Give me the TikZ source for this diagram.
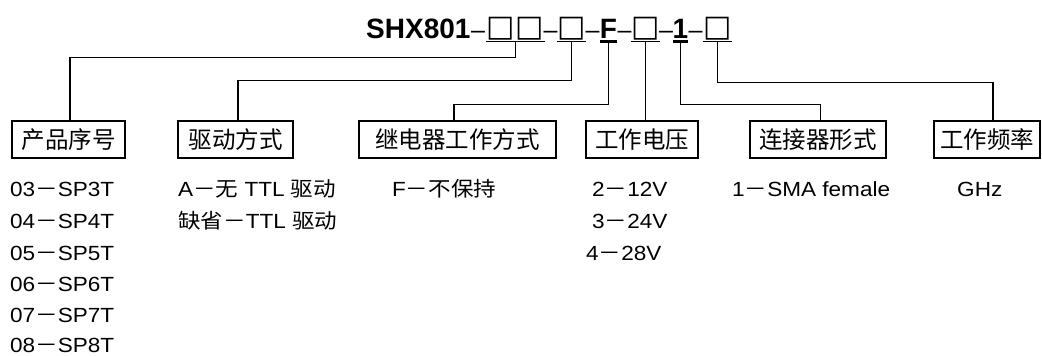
\documentclass[tikz,border=0pt]{standalone}
\usepackage{fontspec}
\setmainfont{Liberation Sans}
\newfontfamily\cjk{Noto Sans CJK SC}
\newfontfamily\symf{DejaVu Sans}
\newfontfamily\latw[FakeStretch=1.1]{Liberation Sans}
\newfontfamily\cjkw[FakeStretch=1.1]{Noto Sans CJK SC}
\newcommand\zhtxt[1]{{\cjkw #1}}
\newcommand\dd{{\cjkw －}}
\newcommand\sqr{\raisebox{2pt}{\symf\fontsize{30}{30}\selectfont □}}
\begin{document}
\begin{tikzpicture}[x=1pt,y=1pt,
  lbl/.style={draw, line width=1.4pt, minimum height=37pt, inner sep=0pt,
    font=\cjk\fontsize{23.5}{23.5}\selectfont},
  conn/.style={line width=1.4pt},
  ul/.style={line width=1.4pt},
  ulb/.style={line width=2.6pt},
  grp/.style={inner sep=0pt, anchor=base, text depth=3pt,
    font=\fontsize{28}{28}\selectfont},
  hy/.style={inner sep=0pt, anchor=base, font=\fontsize{25}{25}\selectfont},
  desc/.style={anchor=base west, inner sep=0pt,
    font=\latw\fontsize{20.5}{20.5}\selectfont},
]
\useasboundingbox (0,0) rectangle (1042,-356);

% title
\node[inner sep=0pt, anchor=base west, font=\bfseries\fontsize{28}{28}\selectfont] (shx) at (366,-38) {SHX801};
\node[hy] (d1) at (478,-38) {–};
\node[grp, minimum width=54pt] (g1) at (515.5,-38) {\sqr\kern1pt\sqr};
\node[hy] (d2) at (550.5,-38) {–};
\node[grp, minimum width=28pt] (g2) at (571.5,-38) {\sqr};
\node[hy] (d3) at (592.5,-38) {–};
\node[grp, minimum width=17pt, font=\bfseries\fontsize{28}{28}\selectfont] (g3) at (608.5,-38) {F};
\node[hy] (d4) at (624.5,-38) {–};
\node[grp, minimum width=27pt] (g4) at (645.5,-38) {\sqr};
\node[hy] (d5) at (666,-38) {–};
\node[grp, minimum width=15pt, font=\bfseries\fontsize{28}{28}\selectfont] (g5) at (680.5,-38) {1};
\node[hy] (d6) at (695.5,-38) {–};
\node[grp, minimum width=29pt] (g6) at (717.5,-38) {\sqr};

% underlines
\draw[ul] (g1.south west) -- (g1.south east);
\draw[ul] (g2.south west) -- (g2.south east);
\draw[ulb] (g3.south west) -- (g3.south east);
\draw[ul] (g4.south west) -- (g4.south east);
\draw[ulb] (g5.south west) -- (g5.south east);
\draw[ul] (g6.south west) -- (g6.south east);

% boxes
\node[lbl, minimum width=113pt] (b1) at (68.5,-139.5) {产品序号};
\node[lbl, minimum width=115pt] (b2) at (235.5,-139.5) {驱动方式};
\node[lbl, minimum width=197pt] (b3) at (457.5,-139.5) {继电器工作方式};
\node[lbl, minimum width=112pt] (b4) at (642,-139.5) {工作电压};
\node[lbl, minimum width=136pt] (b5) at (818,-139.5) {连接器形式};
\node[lbl, minimum width=106pt] (b6) at (987,-139.5) {工作频率};

% connectors
\draw[conn] (g1.south) -- ++(0,-16) -| ([xshift=1.5pt]b1.north);
\draw[conn] (g2.south) -- ++(0,-39) -| ([xshift=2.5pt]b2.north);
\draw[conn] (g3.south) -- ++(0,-63) -| ([xshift=-3.5pt]b3.north);
\draw[conn] (g4.south) -- (g4.south |- b4.north);
\draw[conn] (g5.south) -- ++(0,-63) -| ([xshift=2.5pt]b5.north);
\draw[conn] (g6.south) -- ++(0,-41) -| ([xshift=6pt]b6.north);

% descriptions
\node[desc] (p1) at (10,-196) {03\dd SP3T};
\node[desc] (p2) at (10,-228) {04\dd SP4T};
\node[desc] (p3) at (10,-260) {05\dd SP5T};
\node[desc] (p4) at (10,-291) {06\dd SP6T};
\node[desc] (p5) at (10,-322) {07\dd SP7T};
\node[desc] (p6) at (10,-352) {08\dd SP8T};
\node[desc] (q1) at (178,-196) {A\dd\zhtxt{无} TTL \zhtxt{驱动}};
\node[desc] (q2) at (178,-228) {\zhtxt{缺省}\dd TTL \zhtxt{驱动}};
\node[desc] (r1) at (392,-196) {F\dd\zhtxt{不保持}};
\node[desc] (s1) at (592,-196) {2\dd 12V};
\node[desc] (s2) at (592,-228) {3\dd 24V};
\node[desc] (s3) at (586,-260) {4\dd 28V};
\node[desc] (t1) at (732,-196) {1\dd SMA female};
\node[desc] (u1) at (957,-196) {GHz};
\end{tikzpicture}
\end{document}
